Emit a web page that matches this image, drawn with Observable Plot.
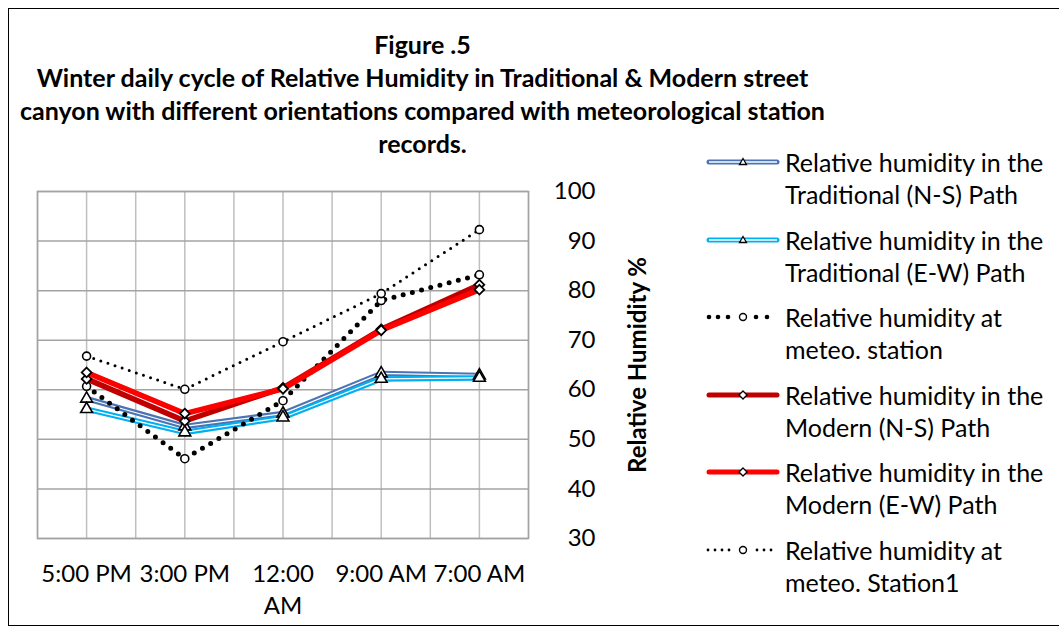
<!DOCTYPE html>
<html><head><meta charset="utf-8">
<script src="https://cdn.jsdelivr.net/npm/d3@7"></script>
<script src="https://cdn.jsdelivr.net/npm/@observablehq/plot@0.6"></script>
<style>
body{margin:0;background:#fff;font-family:Lato,sans-serif;}
#wrap{position:relative;width:1059px;height:632px;overflow:hidden;background:#fff;}
#frame{position:absolute;left:8px;top:8px;width:1070px;height:618px;border:1.5px solid #000;box-sizing:border-box;}
#chart{position:absolute;left:0;top:0;}
#title{position:absolute;left:0;width:845px;top:28px;text-align:center;font-weight:bold;font-size:25px;line-height:33px;color:#000;white-space:nowrap;}
.entry{position:absolute;left:706px;display:flex;align-items:flex-start;}
.entry svg{flex:none;}
.entry .lab{margin-left:5px;font-size:25px;line-height:32px;color:#000;white-space:nowrap;}
</style></head><body>
<div id="wrap"><div id="chart"></div><div id="frame"></div><div id="title"></div><div id="legend"></div></div>
<script>
const times = ["5:00 PM", "3:00 PM", "12:00 AM", "9:00 AM", "7:00 AM"];
const tradNS   = [58.2, 52.6, 55.2, 63.3, 62.9];
const tradEW   = [56.1, 51.4, 54.4, 62.2, 62.4];
const meteo    = [60.7, 46.1, 57.8, 78.0, 83.2];
const modernNS = [62.2, 53.7, 60.4, 72.2, 81.2];
const modernEW = [63.5, 55.2, 60.2, 72.0, 80.2];
const meteo1   = [66.8, 60.1, 69.7, 79.4, 92.3];
const yTicks = [30, 40, 50, 60, 70, 80, 90, 100];
const seriesNames = [
  "Relative humidity in the Traditional (N-S) Path",
  "Relative humidity in the Traditional (E-W) Path",
  "Relative humidity at meteo. station",
  "Relative humidity in the Modern (N-S) Path",
  "Relative humidity in the Modern (E-W) Path",
  "Relative humidity at meteo. Station1"
];
const titleLines = [
  "Figure .5",
  "Winter daily cycle of Relative Humidity in Traditional & Modern street",
  "canyon with different orientations compared with meteorological station",
  "records."
];

const rows = arr => arr.map((v, i) => ({i, v}));
const C = {tns: "#4a74b4", tew: "#00b0f0", mns: "#c00000", mew: "#ff0000"};

const marks = [
  Plot.gridX(d3.range(-0.5, 4.51, 0.5), {stroke: "#bfbfbf", strokeOpacity: 1, strokeWidth: 1.5}),
  Plot.gridY(yTicks, {stroke: "#a3a3a3", strokeOpacity: 1, strokeWidth: 1.5}),
  Plot.frame({stroke: "#a3a3a3", strokeWidth: 1.5}),
  // Traditional N-S
  Plot.line(rows(tradNS), {x: "i", y: "v", stroke: C.tns, strokeWidth: 5.5}),
  Plot.line(rows(tradNS), {x: "i", y: "v", stroke: "#fff", strokeWidth: 1.2}),
  // Traditional E-W
  Plot.line(rows(tradEW), {x: "i", y: "v", stroke: C.tew, strokeWidth: 5.5}),
  Plot.line(rows(tradEW), {x: "i", y: "v", stroke: "#fff", strokeWidth: 1.2}),
  Plot.dot(rows(tradNS), {x: "i", y: "v", symbol: "triangle", r: 4.4, fill: "#fff", stroke: "#000", strokeWidth: 1.6}),
  Plot.dot(rows(tradEW), {x: "i", y: "v", symbol: "triangle", r: 4.4, fill: "#fff", stroke: "#000", strokeWidth: 1.6}),
  // meteo station (big dots)
  Plot.line(rows(meteo), {x: "i", y: "v", stroke: "#000", strokeWidth: 5, strokeDasharray: "0 9.5", strokeLinecap: "round"}),
  Plot.dot(rows(meteo), {x: "i", y: "v", r: 4, fill: "#fff", stroke: "#000", strokeWidth: 1.6}),
  // Modern
  Plot.line(rows(modernNS), {x: "i", y: "v", stroke: C.mns, strokeWidth: 5.5}),
  Plot.dot(rows(modernNS), {x: "i", y: "v", symbol: "diamond2", r: 4.4, fill: "#fff", stroke: "#000", strokeWidth: 1.8}),
  Plot.line(rows(modernEW), {x: "i", y: "v", stroke: C.mew, strokeWidth: 5.5}),
  Plot.dot(rows(modernEW), {x: "i", y: "v", symbol: "diamond2", r: 4.4, fill: "#fff", stroke: "#000", strokeWidth: 1.8}),
  // meteo station1 (small dots)
  Plot.line(rows(meteo1), {x: "i", y: "v", stroke: "#000", strokeWidth: 3, strokeDasharray: "0 7.5", strokeLinecap: "round"}),
  Plot.dot(rows(meteo1), {x: "i", y: "v", r: 4, fill: "#fff", stroke: "#000", strokeWidth: 1.6}),
  // x labels
  Plot.text(times.map((t, i) => ({i, t})), {
    x: "i", text: d => d.t === "12:00 AM" ? "12:00\nAM" : d.t,
    frameAnchor: "bottom", lineAnchor: "top", dy: 21, lineHeight: 1.33, fontSize: 24, fill: "#000"
  }),
  // y labels on right
  Plot.text(yTicks, {y: d => d, text: d => String(d), frameAnchor: "right", textAnchor: "end", dx: 67, fontSize: 24, fill: "#000"}),
  Plot.text(["Relative Humidity %"], {frameAnchor: "right", textAnchor: "middle", dx: 110, rotate: -90, fontWeight: "bold", fontSize: 24, fill: "#000"})
];

const chart = Plot.plot({
  width: 1059, height: 632,
  marginLeft: 37, marginRight: 531, marginTop: 191, marginBottom: 94,
  style: {fontFamily: "Lato, sans-serif", fontSize: "20px", background: "transparent", overflow: "visible"},
  x: {type: "linear", domain: [-0.5, 4.5], axis: null},
  y: {domain: [30, 100], axis: null},
  marks
});
document.getElementById("chart").appendChild(chart);

document.getElementById("title").innerHTML = titleLines.map(s => `<div>${s.replace("&", "&amp;")}</div>`).join("");

// Legend
const sw = {
  tns: `<line x1="3" y1="16" x2="71" y2="16" stroke="${C.tns}" stroke-width="5" stroke-linecap="round"/><line x1="3" y1="16" x2="71" y2="16" stroke="#fff" stroke-width="1.5"/><path d="M37,12.5 L40.5,18.5 L33.5,18.5 Z" fill="#fff" stroke="#000" stroke-width="1.3"/>`,
  tew: `<line x1="3" y1="16" x2="71" y2="16" stroke="${C.tew}" stroke-width="5" stroke-linecap="round"/><line x1="3" y1="16" x2="71" y2="16" stroke="#fff" stroke-width="1.5"/><path d="M37,12.5 L40.5,18.5 L33.5,18.5 Z" fill="#fff" stroke="#000" stroke-width="1.3"/>`,
  met: [3, 12, 22, 50, 61].map(x => `<circle cx="${x}" cy="16" r="2.3" fill="#000"/>`).join("") + `<circle cx="37" cy="16" r="3.5" fill="#fff" stroke="#000" stroke-width="1.4"/>`,
  mns: `<line x1="3" y1="16" x2="71" y2="16" stroke="${C.mns}" stroke-width="5" stroke-linecap="round"/><path d="M37,12 L41,16 L37,20 L33,16 Z" fill="#fff" stroke="#000" stroke-width="1.3"/>`,
  mew: `<line x1="3" y1="16" x2="71" y2="16" stroke="${C.mew}" stroke-width="5" stroke-linecap="round"/><path d="M37,12 L41,16 L37,20 L33,16 Z" fill="#fff" stroke="#000" stroke-width="1.3"/>`,
  m1: [2, 9, 16, 23, 51, 58, 65].map(x => `<circle cx="${x}" cy="16" r="1.4" fill="#000"/>`).join("") + `<circle cx="37" cy="16" r="3.5" fill="#fff" stroke="#000" stroke-width="1.4"/>`
};
const swKeys = ["tns", "tew", "met", "mns", "mew", "m1"];
const legend = document.getElementById("legend");
seriesNames.forEach((name, k) => {
  const parts = name.match(/^(Relative humidity (?:in the|at))\s(.*)$/);
  const e = document.createElement("div");
  e.className = "entry";
  e.style.top = (146 + k * 77.6) + "px";
  e.innerHTML = `<svg width="74" height="32" viewBox="0 0 74 32">${sw[swKeys[k]]}</svg><div class="lab">${parts[1]}<br>${parts[2]}</div>`;
  legend.appendChild(e);
});
</script>
</body></html>
